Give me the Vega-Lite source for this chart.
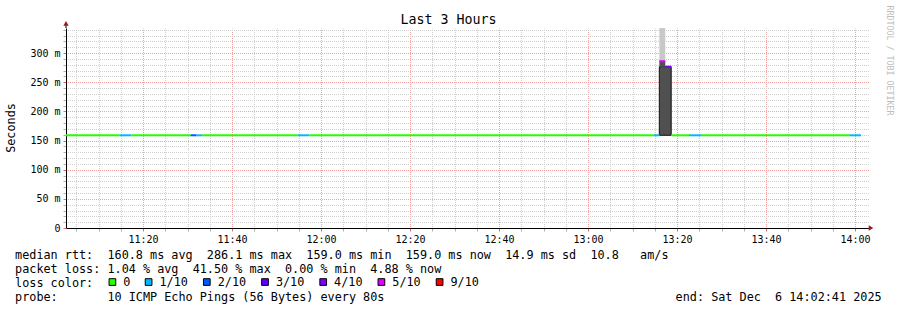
{
  "$schema": "https://vega.github.io/schema/vega-lite/v6.json",
  "width": 803,
  "height": 200,
  "autosize": {"type": "none"},
  "padding": {"left": 66, "top": 28, "right": 28, "bottom": 82},
  "background": "white",
  "config": {"view": {"stroke": null}, "font": "DejaVu Sans Mono"},
  "datasets": {
    "median": [
      {"t": "2025-12-06T11:02:41Z", "t2": "2025-12-06T11:14:41Z", "rtt": 159.0, "loss": "0"},
      {"t": "2025-12-06T11:14:41Z", "t2": "2025-12-06T11:17:21Z", "rtt": 159.0, "loss": "1/10"},
      {"t": "2025-12-06T11:17:21Z", "t2": "2025-12-06T11:30:41Z", "rtt": 159.0, "loss": "0"},
      {"t": "2025-12-06T11:30:41Z", "t2": "2025-12-06T11:32:01Z", "rtt": 159.0, "loss": "2/10"},
      {"t": "2025-12-06T11:32:01Z", "t2": "2025-12-06T11:33:21Z", "rtt": 159.0, "loss": "1/10"},
      {"t": "2025-12-06T11:33:21Z", "t2": "2025-12-06T11:54:41Z", "rtt": 159.0, "loss": "0"},
      {"t": "2025-12-06T11:54:41Z", "t2": "2025-12-06T11:57:21Z", "rtt": 159.0, "loss": "1/10"},
      {"t": "2025-12-06T11:57:21Z", "t2": "2025-12-06T13:14:41Z", "rtt": 159.0, "loss": "0"},
      {"t": "2025-12-06T13:14:41Z", "t2": "2025-12-06T13:16:01Z", "rtt": 159.0, "loss": "1/10"},
      {"t": "2025-12-06T13:16:01Z", "t2": "2025-12-06T13:17:21Z", "rtt": 286.1, "loss": "5/10"},
      {"t": "2025-12-06T13:17:21Z", "t2": "2025-12-06T13:18:41Z", "rtt": 276.7, "loss": "4/10"},
      {"t": "2025-12-06T13:18:41Z", "t2": "2025-12-06T13:22:41Z", "rtt": 159.0, "loss": "0"},
      {"t": "2025-12-06T13:22:41Z", "t2": "2025-12-06T13:25:21Z", "rtt": 159.0, "loss": "1/10"},
      {"t": "2025-12-06T13:25:21Z", "t2": "2025-12-06T13:58:41Z", "rtt": 159.0, "loss": "0"},
      {"t": "2025-12-06T13:58:41Z", "t2": "2025-12-06T14:01:21Z", "rtt": 159.0, "loss": "1/10"}
    ],
    "smokeLight": [
      {"t": "2025-12-06T13:16:01Z", "t2": "2025-12-06T13:17:21Z", "lo": 286.1, "hi": 343}
    ],
    "smokeBody": [
      {"t": "2025-12-06T13:16:01Z", "t2": "2025-12-06T13:18:41Z", "lo": 159.0, "hi": 276.7}
    ],
    "smokeTop": [
      {"t": "2025-12-06T13:16:01Z", "t2": "2025-12-06T13:17:21Z", "lo": 276.7, "hi": 286.1}
    ],
    "arrowX": [{"t": "2025-12-06T14:03:35Z", "v": 0}],
    "arrowY": [{"t": "2025-12-06T11:02:41Z", "v": 351, "base": 343}]
  },
  "resolve": {"axis": {"x": "independent", "y": "independent"}},
  "layer": [
    {
      "data": {"name": "smokeLight"},
      "mark": {"type": "rect", "color": "#c8c8c8"},
      "encoding": {
        "x": {"field": "t", "type": "temporal", "axis": null,
          "scale": {"type": "utc", "domain": [
            {"year": 2025, "month": 12, "date": 6, "hours": 11, "minutes": 2, "seconds": 41, "utc": true},
            {"year": 2025, "month": 12, "date": 6, "hours": 14, "minutes": 3, "seconds": 8, "utc": true}]}},
        "x2": {"field": "t2"},
        "y": {"field": "lo", "type": "quantitative", "scale": {"domain": [0, 343], "nice": false},
          "axis": {"orient": "right", "title": "RRDTOOL / TOBI OETIKER", "labels": false, "ticks": false,
            "domain": false, "grid": false, "titleColor": "#bdbdbd", "titleFont": "DejaVu Sans Mono",
            "titleFontSize": 8.3, "titleFontWeight": "normal", "titleAngle": 90, "titleX": 19, "titleY": 32,
            "titleAlign": "center", "titleBaseline": "middle"}},
        "y2": {"field": "hi"}
      }
    },
    {
      "data": {"name": "smokeBody"},
      "mark": {"type": "rect", "color": "#505050", "stroke": "#111111", "strokeWidth": 1},
      "encoding": {
        "x": {"field": "t", "type": "temporal", "axis": null},
        "x2": {"field": "t2"},
        "y": {"field": "lo", "type": "quantitative", "axis": null},
        "y2": {"field": "hi"}
      }
    },
    {
      "data": {"name": "smokeTop"},
      "mark": {"type": "rect", "color": "#505050"},
      "encoding": {
        "x": {"field": "t", "type": "temporal",
          "axis": {"orient": "top", "title": "Last 3 Hours", "labels": false, "ticks": false, "domain": false,
            "grid": false, "titleFont": "DejaVu Sans Mono", "titleFontSize": 13.3, "titleFontWeight": "normal",
            "titleColor": "black", "titleX": 382, "titleY": -4.5, "titleAlign": "center", "titleBaseline": "alphabetic"}},
        "x2": {"field": "t2"},
        "y": {"field": "lo", "type": "quantitative", "axis": null},
        "y2": {"field": "hi"}
      }
    },
    {
      "data": {"name": "median"},
      "mark": {"type": "rect", "height": 2},
      "encoding": {
        "x": {"field": "t", "type": "temporal",
          "axis": {
            "orient": "bottom",
            "title": [
              "median rtt:\u00a0\u00a0160.8 ms avg\u00a0\u00a0286.1 ms max\u00a0\u00a0159.0 ms min\u00a0\u00a0159.0 ms now\u00a0\u00a014.9 ms sd\u00a0\u00a010.8\u00a0\u00a0\u00a0am/s",
              "packet loss: 1.04 % avg\u00a0\u00a041.50 % max\u00a0\u00a00.00 % min\u00a0\u00a04.88 % now",
              "loss color:",
              "probe:\u00a0\u00a0\u00a0\u00a0\u00a0\u00a0\u00a010 ICMP Echo Pings (56 Bytes) every 80s\u00a0\u00a0\u00a0\u00a0\u00a0\u00a0\u00a0\u00a0\u00a0\u00a0\u00a0\u00a0\u00a0\u00a0\u00a0\u00a0\u00a0\u00a0\u00a0\u00a0\u00a0\u00a0\u00a0\u00a0\u00a0\u00a0\u00a0\u00a0\u00a0\u00a0\u00a0\u00a0\u00a0\u00a0\u00a0\u00a0\u00a0\u00a0\u00a0\u00a0\u00a0end: Sat Dec\u00a0\u00a06 14:02:41 2025"
            ],
            "titleFont": "DejaVu Sans Mono", "titleFontSize": 11.8, "titleFontWeight": "normal", "titleColor": "black",
            "titleAlign": "left", "titleBaseline": "alphabetic", "titleX": -51.4, "titleY": 30, "titleLineHeight": 14,
            "tickCount": 36,
            "labelExpr": "utcminutes(datum.value) % 20 == 0 ? utcFormat(datum.value, '%H:%M') : ''",
            "labelFont": "DejaVu Sans Mono", "labelFontSize": 10, "labelColor": "black", "labelPadding": 3,
            "labelFlush": false, "labelOverlap": false,
            "tickSize": 3,
            "tickColor": {"condition": {"test": "utcminutes(datum.value) % 20 == 0", "value": "#e07070"}, "value": "#b0b0b0"},
            "grid": true,
            "gridColor": {"condition": {"test": "utcminutes(datum.value) % 20 == 0", "value": "#f2a0a0"}, "value": "#cfcfcf"},
            "gridDash": [1, 1], "gridDashOffset": 0.5, "gridWidth": 1,
            "domainColor": "black", "domainWidth": 1
          }},
        "x2": {"field": "t2"},
        "y": {"field": "rtt", "type": "quantitative",
          "axis": {
            "orient": "left",
            "values": [0, 10, 20, 30, 40, 50, 60, 70, 80, 90, 100, 110, 120, 130, 140, 150, 160, 170, 180, 190, 200, 210, 220, 230, 240, 250, 260, 270, 280, 290, 300, 310, 320, 330, 340],
            "labelExpr": "datum.value % 50 == 0 ? (datum.value == 0 ? '0' : datum.value + ' m') : ''",
            "labelFont": "DejaVu Sans Mono", "labelFontSize": 10, "labelColor": "black", "labelPadding": 3,
            "labelOverlap": false, "labelFlush": false,
            "tickSize": 3,
            "tickColor": {"condition": {"test": "datum.value % 50 == 0", "value": "#e07070"}, "value": "#b0b0b0"},
            "grid": true,
            "gridColor": {"condition": {"test": "datum.value % 50 == 0", "value": "#f2a0a0"}, "value": "#cfcfcf"},
            "gridDash": [1, 1], "gridDashOffset": 0.5, "gridWidth": 1,
            "domainColor": "black", "domainWidth": 1,
            "title": "Seconds", "titleFont": "DejaVu Sans Mono", "titleFontSize": 11.8, "titleFontWeight": "normal",
            "titleColor": "black", "titleAngle": -90, "titleX": -55.3, "titleY": 99.5, "titleAlign": "center",
            "titleBaseline": "middle"
          }},
        "color": {"field": "loss", "type": "nominal",
          "scale": {"domain": ["0", "1/10", "2/10", "3/10", "4/10", "5/10", "9/10"],
            "range": ["#26ff00", "#00b8ff", "#0059ff", "#5e00ff", "#7e00ff", "#dd00ff", "#ff0000"]},
          "legend": {"orient": "none", "legendX": 40.5, "legendY": 248, "direction": "horizontal", "columns": 7,
            "title": null, "symbolType": "square", "symbolSize": 45, "symbolStrokeColor": "black",
            "symbolStrokeWidth": 1, "symbolOpacity": 1, "labelFont": "DejaVu Sans Mono", "labelFontSize": 11.8,
            "labelColor": "black", "labelOffset": 5, "columnPadding": 12.2, "padding": 0}}
      }
    },
    {
      "data": {"name": "arrowY"},
      "mark": {"type": "rule", "color": "black", "strokeWidth": 1},
      "encoding": {
        "x": {"field": "t", "type": "temporal", "axis": null},
        "y": {"field": "base", "type": "quantitative", "axis": null},
        "y2": {"field": "v"}
      }
    },
    {
      "data": {"name": "arrowX"},
      "mark": {"type": "point", "shape": "triangle-right", "filled": true, "color": "#9b1b1b", "size": 28, "opacity": 1},
      "encoding": {
        "x": {"field": "t", "type": "temporal", "axis": null},
        "y": {"field": "v", "type": "quantitative", "axis": null}
      }
    },
    {
      "data": {"name": "arrowY"},
      "mark": {"type": "point", "shape": "triangle-up", "filled": true, "color": "#9b1b1b", "size": 28, "opacity": 1},
      "encoding": {
        "x": {"field": "t", "type": "temporal", "axis": null},
        "y": {"field": "v", "type": "quantitative", "axis": null}
      }
    }
  ]
}
